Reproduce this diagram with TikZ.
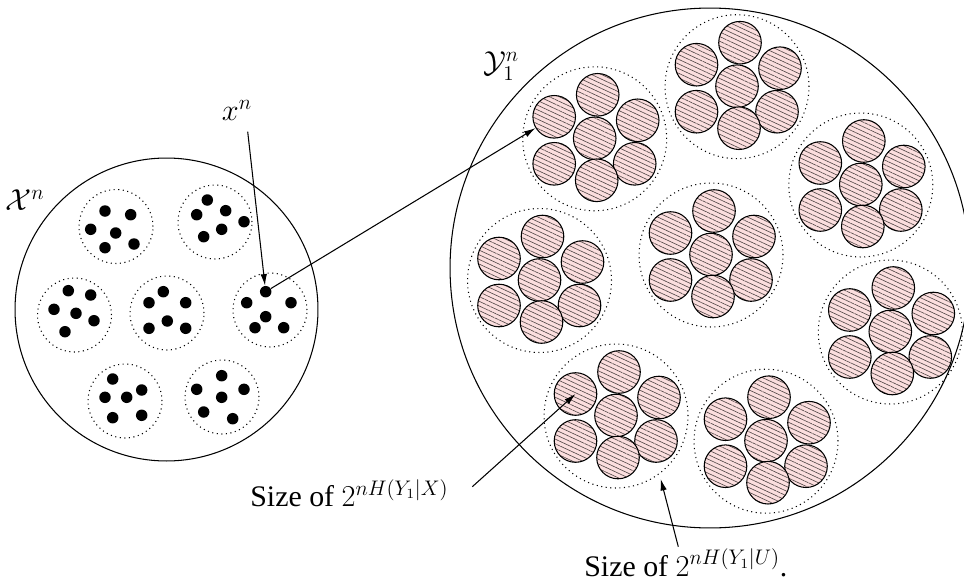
\documentclass[tikz,border=0pt]{standalone}
\usepackage[no-math]{fontspec}
\setmainfont{Liberation Serif}
\usetikzlibrary{arrows.meta,patterns.meta}
\definecolor{pinkfill}{RGB}{251,222,222}
\definecolor{hatchcol}{RGB}{80,70,70}
\begin{document}
\begin{tikzpicture}[x=0.02cm,y=-0.02cm,
  bigcirc/.style={circle,draw,line width=0.6pt,inner sep=0},
  grp/.style={circle,draw,dotted,line width=0.6pt,inner sep=0,minimum size=1.48cm},
  cgrp/.style={circle,draw,dotted,line width=0.6pt,inner sep=0,minimum size=2.88cm},
  pt/.style={circle,fill=black,inner sep=0,minimum size=0.23cm},
  hc/.style={circle,draw,line width=0.6pt,inner sep=0,minimum size=0.852cm,
    preaction={fill=pinkfill},
    pattern={Lines[angle=-25,distance=2.4pt,line width=0.35pt]},pattern color=hatchcol},
  lbl/.style={font=\fontsize{17}{20}\selectfont,inner sep=0},
  arr/.style={-{Latex[length=2.3mm,width=1.3mm]},line width=0.6pt}
]
\useasboundingbox (0,0) rectangle (964,585);
\clip (0,0) rectangle (964,585);

% left set
\node[bigcirc,minimum size=6.06cm] (Xset) at (166.5,309.5) {};
\node[grp] (g1) at (116,226.5) {};
\node[grp] (g2) at (215,222) {};
\node[grp] (g3) at (74.5,315) {};
\node[grp] (g4) at (167,313) {};
\node[grp] (g5) at (270,310) {};
\node[grp] (g6) at (125,401) {};
\node[grp] (g7) at (222,397) {};
\foreach \p [count=\i] in {(105,211),(130.7,214.7),(90.7,229.3),(115.7,233),(105,247.7),(134,244)}
  \node[pt] (d1\i) at \p {};
\foreach \p [count=\i] in {(207.3,200),(196.7,214.7),(225.7,210.7),(244,221.7),(221.7,229.3),(203.7,236.7)}
  \node[pt] (d2\i) at \p {};
\foreach \p [count=\i] in {(68.3,290.7),(90.7,295),(54,309.3),(76,313.3),(94,320.7),(65,331.7)}
  \node[pt] (d3\i) at \p {};
\foreach \p [count=\i] in {(163.3,291.7),(149,302.7),(185.7,302.7),(167.3,321),(149,328.3),(185.7,328.3)}
  \node[pt] (d4\i) at \p {};
\foreach \p [count=\i] in {(265.7,291.7),(246.7,302.7),(291,302.7),(265.7,316.7),(255,327.7),(283.7,327.7)}
  \node[pt] (d5\i) at \p {};
\foreach \p [count=\i] in {(112.7,379),(105,397.3),(126.7,397.3),(141.7,390),(112.7,417.7),(141.7,415.3)}
  \node[pt] (d6\i) at \p {};
\foreach \p [count=\i] in {(221.7,375.7),(196.7,389.3),(221.7,397.3),(244,389.3),(203.7,412),(232.7,418.7)}
  \node[pt] (d7\i) at \p {};

% right set
\node[bigcirc,minimum size=10.4cm] (Yset) at (710,268) {};
\foreach \n/\cx/\cy in {A/594.7/138.8, B/737/86.7, C/860.8/185, D/711/255, E/539.5/280.5, F/890.3/332, G/616/416, H/766/441.2}{
  \node[cgrp] (\n) at (\cx,\cy) {};
  \foreach \k/\dx/\dy in {1/3/-44, 2/-40.5/-22, 3/43/-18.5, 4/0/-0.5, 5/-40.5/25, 6/40/25, 7/2/41.5}{
    \node[hc] (\n\k) at ({\cx+\dx},{\cy+\dy}) {};
  }
}

% labels
\node[lbl] (xl) at (25,200) {$\mathcal{X}^n$};
\node[lbl] (yl) at (501,66) {$\mathcal{Y}_1^n$};
\node[lbl] (xn) at (237,110) {$x^n$};
\node[lbl,anchor=base west] (s1) at (250,506.7) {Size of $2^{nH(Y_1|X)}$};
\node[lbl,anchor=base west] (s2) at (584,576) {Size of $2^{nH(Y_1|U)}$.};

% arrows
\coordinate (xs) at (247.7,131.7);
\draw[arr] (xs) -- (d51);
\draw[arr] (d51) -- (A2);
\coordinate (s1e) at (472.3,486.7);
\draw[arr] (s1e) -- (G2.center);
\coordinate (s2e) at (678.3,546.7);
\coordinate (s2t) at (660.7,479);
\draw[arr] (s2e) -- (s2t);
\end{tikzpicture}
\end{document}
